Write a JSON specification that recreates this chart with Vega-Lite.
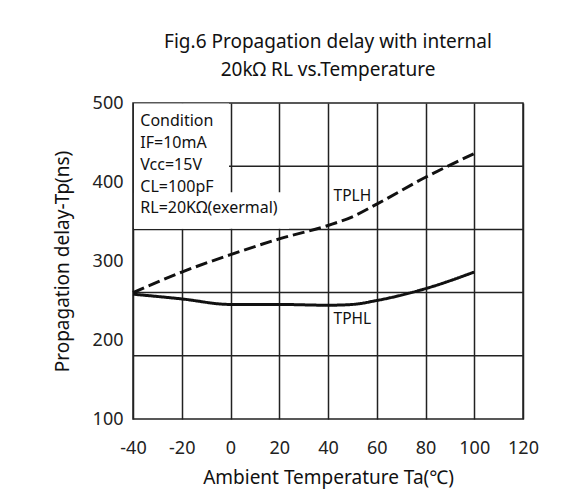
{
  "$schema": "https://vega.github.io/schema/vega-lite/v6.json",
  "width": 390,
  "height": 316,
  "padding": {"left": 53, "top": 33, "right": 5, "bottom": 5},
  "background": "white",
  "title": {
    "text": ["Fig.6 Propagation delay with internal", "20kΩ RL vs.Temperature"],
    "font": "Noto Sans",
    "fontSize": 19,
    "fontWeight": "normal",
    "lineHeight": 28,
    "color": "#111",
    "anchor": "middle",
    "offset": 14
  },
  "config": {
    "view": {"stroke": "#222", "strokeWidth": 1.5},
    "font": "Noto Sans"
  },
  "datasets": {
    "curves": [
      {"x": -40, "y": 260, "series": "TPLH"},
      {"x": -20, "y": 286, "series": "TPLH"},
      {"x": 0, "y": 308, "series": "TPLH"},
      {"x": 20, "y": 328, "series": "TPLH"},
      {"x": 40, "y": 345, "series": "TPLH"},
      {"x": 50, "y": 356, "series": "TPLH"},
      {"x": 60, "y": 372, "series": "TPLH"},
      {"x": 80, "y": 406, "series": "TPLH"},
      {"x": 100, "y": 436, "series": "TPLH"},
      {"x": -40, "y": 258, "series": "TPHL"},
      {"x": -20, "y": 252, "series": "TPHL"},
      {"x": 0, "y": 245, "series": "TPHL"},
      {"x": 20, "y": 245, "series": "TPHL"},
      {"x": 40, "y": 244, "series": "TPHL"},
      {"x": 50, "y": 245, "series": "TPHL"},
      {"x": 60, "y": 250, "series": "TPHL"},
      {"x": 80, "y": 265, "series": "TPHL"},
      {"x": 100, "y": 286, "series": "TPHL"}
    ]
  },
  "layer": [
    {
      "data": {"values": [{"y": 180}, {"y": 260}, {"y": 340}, {"y": 420}]},
      "mark": {"type": "rule", "color": "#222", "strokeWidth": 1.5},
      "encoding": {
        "y": {
          "field": "y",
          "type": "quantitative",
          "scale": {"domain": [100, 500], "nice": false, "zero": false},
          "axis": {
            "values": [100, 200, 300, 400, 500],
            "grid": false,
            "ticks": false,
            "domain": false,
            "labelFontSize": 18,
            "labelColor": "#222",
            "labelPadding": 10,
            "labelFlush": false,
            "title": "Propagation delay-Tp(ns)",
            "titleFontSize": 19,
            "titleFontWeight": "normal",
            "titleColor": "#111",
            "titlePadding": 20
          }
        },
        "x": {
          "datum": -40,
          "type": "quantitative",
          "scale": {"domain": [-40, 120], "nice": false, "zero": false},
          "axis": {
            "values": [-40, -20, 0, 20, 40, 60, 80, 100, 120],
            "labelExpr": "datum.value < 0 ? '-' + abs(datum.value) : '' + datum.value",
            "grid": true,
            "gridColor": "#222",
            "gridWidth": 1.5,
            "gridOpacity": 1,
            "ticks": false,
            "domain": false,
            "labelFontSize": 18,
            "labelColor": "#222",
            "labelPadding": 20,
            "labelFlush": false,
            "labelOverlap": false,
            "title": "Ambient Temperature Ta(℃)",
            "titleFontSize": 19,
            "titleFontWeight": "normal",
            "titleColor": "#111",
            "titlePadding": 11
          }
        },
        "x2": {"datum": 120}
      }
    },
    {
      "data": {"values": [
        {"x": -39.6, "x2": -0.6, "y": 340.8, "y2": 499.4},
        {"x": -39.6, "x2": 24, "y": 340.8, "y2": 387}
      ]},
      "mark": {"type": "rect", "fill": "white"},
      "encoding": {
        "x": {"field": "x", "type": "quantitative"},
        "x2": {"field": "x2"},
        "y": {"field": "y", "type": "quantitative"},
        "y2": {"field": "y2"}
      }
    },
    {
      "data": {"name": "curves"},
      "mark": {"type": "line", "color": "#111", "strokeWidth": 3, "interpolate": "monotone"},
      "encoding": {
        "x": {"field": "x", "type": "quantitative"},
        "y": {"field": "y", "type": "quantitative"},
        "detail": {"field": "series"},
        "strokeDash": {
          "field": "series",
          "type": "nominal",
          "scale": {"domain": ["TPHL", "TPLH"], "range": [[1, 0], [12, 5]]},
          "legend": null
        }
      }
    },
    {
      "data": {"values": [
        {"x": -37, "y": 477, "label": "Condition"},
        {"x": -37, "y": 450, "label": "IF=10mA"},
        {"x": -37, "y": 422, "label": "Vcc=15V"},
        {"x": -37, "y": 394, "label": "CL=100pF"},
        {"x": -37, "y": 367, "label": "RL=20KΩ(exermal)"}
      ]},
      "mark": {"type": "text", "align": "left", "baseline": "middle", "fontSize": 16, "color": "#111"},
      "encoding": {
        "x": {"field": "x", "type": "quantitative"},
        "y": {"field": "y", "type": "quantitative"},
        "text": {"field": "label"}
      }
    },
    {
      "data": {"values": [
        {"x": 50, "y": 382, "label": "TPLH"},
        {"x": 50, "y": 227, "label": "TPHL"}
      ]},
      "mark": {"type": "text", "align": "center", "baseline": "middle", "fontSize": 15.5, "color": "#111"},
      "encoding": {
        "x": {"field": "x", "type": "quantitative"},
        "y": {"field": "y", "type": "quantitative"},
        "text": {"field": "label"}
      }
    }
  ]
}
